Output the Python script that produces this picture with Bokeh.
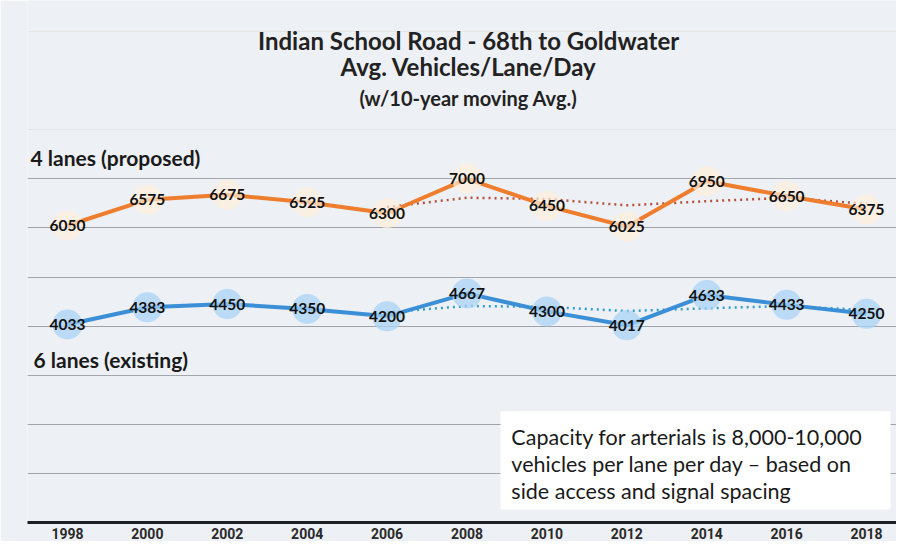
from bokeh.plotting import figure
from bokeh.models import ColumnDataSource, Range1d, FixedTicker, Grid, Label, BoxAnnotation
from bokeh.core.properties import value
from bokeh.embed import file_html
from bokeh.resources import INLINE

# ---- data ----
years = [1998, 2000, 2002, 2004, 2006, 2008, 2010, 2012, 2014, 2016, 2018]
four_lanes = [6050, 6575, 6675, 6525, 6300, 7000, 6450, 6025, 6950, 6650, 6375]
six_lanes = [4033, 4383, 4450, 4350, 4200, 4667, 4300, 4017, 4633, 4433, 4250]
ma_years = [2006, 2008, 2010, 2012, 2014, 2016, 2018]
four_ma = [6425, 6615, 6590, 6460, 6545, 6615, 6490]
six_ma = [4283, 4410, 4393, 4307, 4363, 4410, 4327]
grid_values = [1000, 2000, 3000, 4000, 5000, 6000, 7000]

title_lines = ["Indian School Road - 68th to Goldwater", "Avg. Vehicles/Lane/Day", "(w/10-year moving Avg.)"]
label_four = "4 lanes (proposed)"
label_six = "6 lanes (existing)"
note_lines = ["Capacity for arterials is 8,000-10,000",
              "vehicles per lane per day \u2013 based on",
              "side access and signal spacing"]

BG = "#edf0f4"

p = figure(width=896, height=541, x_range=Range1d(1997, 2018.75), y_range=Range1d(0, 10633),
           y_axis_location=None, toolbar_location=None, output_backend="svg",
           min_border_left=27, min_border_right=0, min_border_top=0, min_border_bottom=0)
p.background_fill_color = BG
p.border_fill_color = BG
p.outline_line_color = None
p.xgrid.visible = False

p.add_layout(Grid(dimension=1, ticker=FixedTicker(ticks=grid_values),
                  grid_line_color="#8e949b", grid_line_width=1, grid_line_alpha=0.8))

ax = p.xaxis[0]
ax.ticker = FixedTicker(ticks=years)
ax.axis_line_width = 3
ax.axis_line_color = "#1e1f22"
ax.major_tick_line_color = None
ax.minor_tick_line_color = None
ax.major_tick_out = 0
ax.major_tick_in = 0
ax.minor_tick_out = 0
ax.major_label_standoff = 5
ax.major_label_text_font = "Roboto"
ax.major_label_text_font_style = "bold"
ax.major_label_text_font_size = "14px"
ax.major_label_text_color = "#2a2a2a"

# moving averages (dotted)
p.line(ma_years, four_ma, line_color="#b5513a", line_width=2.5, line_dash="2 4")
p.line(ma_years, six_ma, line_color="#2f9fcf", line_width=2.5, line_dash="2 4")

# main series
p.line(years, four_lanes, line_color="#ee7d2e", line_width=4)
p.line(years, six_lanes, line_color="#3a8fd6", line_width=4)

p.scatter(years, four_lanes, size=30, fill_color="#fdeedb", fill_alpha=0.7, line_color=None)
p.scatter(years, six_lanes, size=30, fill_color="#a9d3f5", fill_alpha=0.75, line_color=None)

src_four = ColumnDataSource(dict(x=years, y=four_lanes, t=[str(v) for v in four_lanes]))
src_six = ColumnDataSource(dict(x=years, y=six_lanes, t=[str(v) for v in six_lanes]))
for src in (src_four, src_six):
    p.text(x="x", y="y", text="t", source=src, text_font=value("Lato"), text_font_style="bold",
           text_font_size="15.5px", text_color="#111111", text_align="center", text_baseline="middle")

# titles
for txt, yv, fs in zip(title_lines, [9816, 9286, 8653], ["24px", "24px", "20px"]):
    p.add_layout(Label(x=2008.04, y=yv, text=txt, text_align="center", text_baseline="middle",
                       text_font="Lato", text_font_style="bold", text_font_size=fs, text_color="#222222"))

p.add_layout(Label(x=1997, y=7429, x_offset=3, text=label_four, text_align="left", text_baseline="middle",
                   text_font="Lato", text_font_style="bold", text_font_size="21px", text_color="#1a1a1a"))
p.add_layout(Label(x=1997, y=3327, x_offset=6, text=label_six, text_align="left", text_baseline="middle",
                   text_font="Lato", text_font_style="bold", text_font_size="21px", text_color="#1a1a1a"))

# note box
p.add_layout(BoxAnnotation(left=2008.84, right=2018.60, bottom=265, top=2265,
                           fill_color="white", fill_alpha=1.0, line_color=None))
for txt, yv in zip(note_lines, [1735, 1184, 633]):
    p.add_layout(Label(x=2009.11, y=yv, text=txt, text_align="left", text_baseline="middle",
                       text_font="Lato", text_font_size="21.5px", text_color="#1a1a1a"))

open("out.html", "w").write(file_html(p, INLINE))
